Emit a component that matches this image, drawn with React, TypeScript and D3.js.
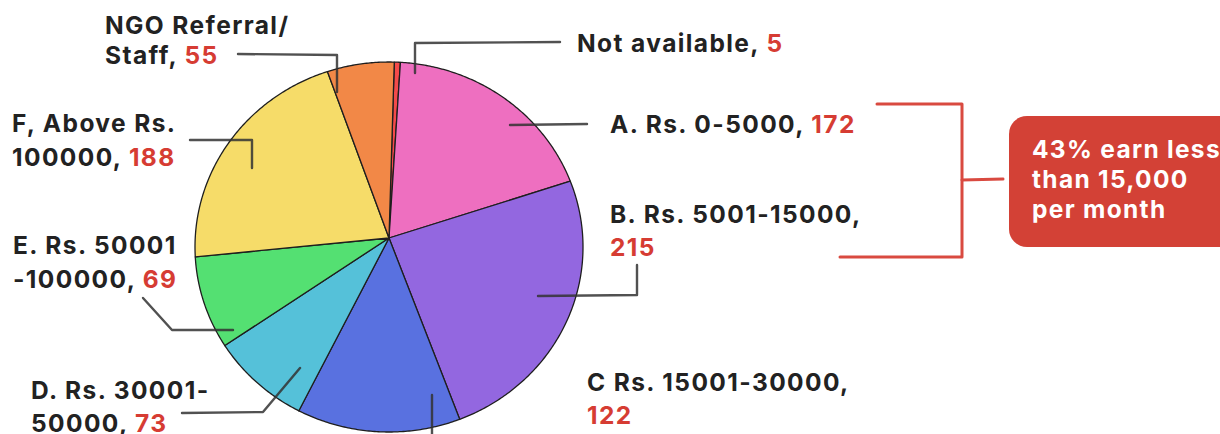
import React from "react";
import * as d3 from "d3";

const categories = [
  "Not available",
  "A. Rs. 0-5000",
  "B. Rs. 5001-15000",
  "C Rs. 15001-30000",
  "D. Rs. 30001-50000",
  "E. Rs. 50001-100000",
  "F, Above Rs. 100000",
  "NGO Referral/Staff",
];
const values = [5, 172, 215, 122, 73, 69, 188, 55];
const colors = ["#f44a4a", "#ee6fc0", "#9367e0", "#5971e0", "#55c1d9", "#54e072", "#f6dc69", "#f28847"];

// label text lines: [plain text, red number] per line
const labelLines: [string, string][][] = [
  [["Not available, ", "5"]],
  [["A. Rs. 0-5000, ", "172"]],
  [["B. Rs. 5001-15000,", ""], ["", "215"]],
  [["C Rs. 15001-30000,", ""], ["", "122"]],
  [["D. Rs. 30001-", ""], ["50000, ", "73"]],
  [["E. Rs. 50001", ""], ["-100000, ", "69"]],
  [["F, Above Rs.", ""], ["100000, ", "188"]],
  [["NGO Referral/", ""], ["Staff, ", "55"]],
];
const calloutLines = ["43% earn less", "than 15,000", "per month"];

// layout (positions only)
const labelPos = [
  { x: 577, y: [52] },
  { x: 610, y: [133] },
  { x: 610, y: [223, 256] },
  { x: 587, y: [391, 424] },
  { x: 31, y: [399, 432] },
  { x: 13, y: [254, 288] },
  { x: 12, y: [132, 166] },
  { x: 105, y: [34, 64] },
];
const leaders: [number, number][][] = [
  [[415, 73], [415, 43], [560, 42]],
  [[510, 125], [587, 124]],
  [[538, 296], [637, 295], [637, 265]],
  [[432, 395], [432, 436]],
  [[300, 368], [263, 412], [182, 413]],
  [[233, 330], [172, 330], [143, 298]],
  [[252, 168], [252, 140], [190, 140]],
  [[337, 92], [337, 55], [238, 54]],
];

const apex = { x: 389, y: 238 };
const ell = { cx: 389, cy: 247, rx: 194, ry: 185 };

function rayPoint(theta: number): [number, number] {
  const dx = Math.sin(theta), dy = -Math.cos(theta);
  const px = (apex.x - ell.cx) / ell.rx, py = (apex.y - ell.cy) / ell.ry;
  const ux = dx / ell.rx, uy = dy / ell.ry;
  const a = ux * ux + uy * uy;
  const b = 2 * (px * ux + py * uy);
  const c = px * px + py * py - 1;
  const t = (-b + Math.sqrt(b * b - 4 * a * c)) / (2 * a);
  return [apex.x + t * dx, apex.y + t * dy];
}

export default function App() {
  const off = 0.03;
  const pie = d3.pie<number>().sort(null).startAngle(off).endAngle(Math.PI * 2 + off);
  const arcs = pie(values);
  const line = d3.line();
  const font = "Inter, sans-serif";

  const slicePath = (a0: number, a1: number) => {
    const n = Math.max(2, Math.ceil((a1 - a0) / 0.01));
    const pts: [number, number][] = [[apex.x, apex.y]];
    for (let i = 0; i <= n; i++) pts.push(rayPoint(a0 + ((a1 - a0) * i) / n));
    return line(pts) + "Z";
  };

  return (
    <svg width={1220} height={434} style={{ position: "absolute", left: 0, top: 0, background: "#fff" }}>
      <g>
        {arcs.map((a, i) => (
          <path
            key={i}
            d={slicePath(a.startAngle, a.endAngle)}
            fill={colors[i]}
            stroke="#1e1e1e"
            strokeWidth={1.3}
            strokeLinejoin="round"
          />
        ))}
      </g>
      <g fill="none" stroke="#333" strokeWidth={2.4} strokeLinecap="round" strokeLinejoin="round" opacity={0.85}>
        {leaders.map((l, i) => (
          <path key={i} d={line(l) || ""} />
        ))}
      </g>
      <g fontFamily={font} fontWeight={700} fontSize={24.5} letterSpacing={1.4} fill="#222">
        {labelLines.map((lines, i) =>
          lines.map((ln, j) => (
            <text key={i + "-" + j} x={labelPos[i].x} y={labelPos[i].y[j]}>
              {ln[0]}
              {ln[1] && <tspan fill="#d63c33">{ln[1]}</tspan>}
            </text>
          ))
        )}
      </g>
      <g fill="none" stroke="#d94a40" strokeWidth={3} strokeLinecap="round" strokeLinejoin="round">
        <path d={line([[877, 104], [962, 104], [962, 257], [840, 257]]) || ""} />
        <path d={line([[962, 180], [1003, 179]]) || ""} />
      </g>
      <rect x={1009} y={116} width={240} height={131} rx={18} fill="#d34136" />
      <g fontFamily={font} fontWeight={700} fontSize={24.5} letterSpacing={1.3} fill="#fff">
        {calloutLines.map((t, i) => (
          <text key={i} x={1032} y={158 + i * 30}>
            {t}
          </text>
        ))}
      </g>
    </svg>
  );
}
